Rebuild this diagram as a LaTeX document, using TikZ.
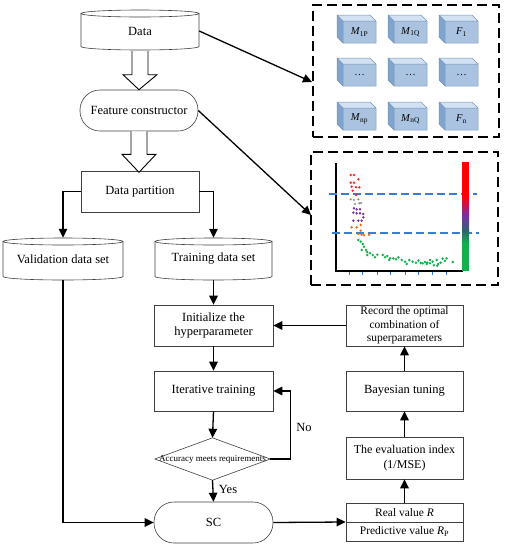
\documentclass[tikz,border=0pt]{standalone}
\usepackage{fontspec}
\setmainfont{Liberation Serif}
\usetikzlibrary{arrows.meta,calc}
\definecolor{cubefront}{HTML}{A9C3E0}
\definecolor{cubetop}{HTML}{D3E2F2}
\definecolor{cubeleft}{HTML}{7FA5CE}
\definecolor{cubeedge}{HTML}{7393B8}
\definecolor{dashblue}{HTML}{3A7BD5}
\definecolor{dred}{HTML}{FF2A2A}
\definecolor{dgray}{HTML}{8C8C8C}
\definecolor{dpurple}{HTML}{7A30A8}
\definecolor{dorange}{HTML}{EE6A1C}
\definecolor{dgreen}{HTML}{12B04A}
\newcommand\mycube[4]{%
  \fill[cubeleft] (#1,#2) -- (#1+6,#2+6) -- (#1+6,#2+28) -- (#1,#2+22) -- cycle;
  \fill[cubetop] (#1,#2) -- (#1+33,#2) -- (#1+39,#2+6) -- (#1+6,#2+6) -- cycle;
  \fill[cubefront] (#1+6,#2+6) rectangle (#1+39,#2+28);
  \draw[cubeedge,line width=0.5pt,line join=round] (#1,#2) -- (#1+33,#2) -- (#1+39,#2+6) -- (#1+39,#2+28) -- (#1+6,#2+28) -- (#1,#2+22) -- cycle
    (#1,#2) -- (#1+6,#2+6) -- (#1+39,#2+6) (#1+6,#2+6) -- (#1+6,#2+28);
  \node[font=\fontsize{10.5}{11}\selectfont] (#4) at (#1+22.5,#2+17) {#3};
}
\begin{document}
\begin{tikzpicture}[x=1pt,y=-1pt,
  box/.style={draw=black!75, line width=0.6pt, fill=white, align=center, inner sep=0pt,
    font=\fontsize{12.5}{14.5}\selectfont},
  stadium/.style={box, rounded corners=20pt},
  cylnode/.style={align=center, inner sep=0pt, font=\fontsize{12.5}{14}\selectfont},
  cyl/.style={draw=black!75, line width=0.6pt},
  arr/.style={line width=1.3pt, -{Triangle[length=9pt,width=8.5pt]}},
  hollow/.style={draw=black, line width=0.9pt, line join=miter, fill=white},
  dashbox/.style={draw, line width=2.2pt, dash pattern=on 10pt off 5pt},
  lbl/.style={font=\fontsize{12.5}{14}\selectfont}
]
\useasboundingbox (0,0) rectangle (507,550);

% ---------- cylinders ----------
\draw[cyl] (81,13.5) -- (81,46.5) arc[start angle=180,end angle=360,x radius=59pt,y radius=3.5pt] -- (199,13.5);
\draw[cyl] (140,13.5) ellipse[x radius=59pt,y radius=3.5pt];
\node[cylnode, minimum width=118, minimum height=37] (data) at (140,31) {Data};

\draw[cyl] (3,241.5) -- (3,276.5) arc[start angle=180,end angle=360,x radius=60pt,y radius=3.5pt] -- (123,241.5);
\draw[cyl] (63,241.5) ellipse[x radius=60pt,y radius=3.5pt];
\node[cylnode, minimum width=120, minimum height=42] (valid) at (63,259) {Validation data set};

\draw[cyl] (155,241.5) -- (155,276.5) arc[start angle=180,end angle=360,x radius=58.5pt,y radius=3.5pt] -- (272,241.5);
\draw[cyl] (213.5,241.5) ellipse[x radius=58.5pt,y radius=3.5pt];
\node[cylnode, minimum width=117, minimum height=42] (train) at (213.5,259) {Training data set};

% ---------- boxes ----------
\node[stadium, minimum width=118, minimum height=41] (feat) at (139,110.5) {Feature constructor};
\node[box, minimum width=118, minimum height=41] (part) at (140,191.5) {Data partition};
\node[box, minimum width=119, minimum height=41] (init) at (213.5,325.5) {Initialize the\\hyperparameter};
\node[box, minimum width=119, minimum height=40] (iter) at (213.5,391) {Iterative training};
\node[minimum width=115, minimum height=42, inner sep=0pt] (dia) at (212.5,459) {};
\draw[draw=black!75, line width=0.6pt] (dia.north) -- (dia.east) -- (dia.south) -- (dia.west) -- cycle;
\node[font=\fontsize{9}{10}\selectfont, inner sep=0pt] (diatext) at (dia.center) {Accuracy meets requirements};
\node[stadium, minimum width=119, minimum height=41] (sc) at (213.5,522.5) {SC};

\node[box, minimum width=117, minimum height=38] (real) at (404.5,522) {};
\draw[draw=black!75, line width=0.6pt] (real.west) -- (real.east);
\node[font=\fontsize{11.5}{13}\selectfont] (realtop) at (404.5,512.5) {Real value \textit{R}};
\node[font=\fontsize{11.5}{13}\selectfont] (realbot) at (404.5,531.5) {Predictive value \textit{R}\textsubscript{P}};
\node[box, minimum width=117, minimum height=42, font=\fontsize{12}{15}\selectfont] (eval) at (404.5,458) {The evaluation index\\(1/MSE)};
\node[box, minimum width=117, minimum height=40] (bayes) at (404.5,391) {Bayesian tuning};
\node[box, minimum width=117, minimum height=41, font=\fontsize{11.5}{13.5}\selectfont] (rec) at (404.5,325.5) {Record the optimal\\combination of\\superparameters};

% ---------- hollow arrows ----------
\draw[hollow] ($(data.south)+(-8,1.5)$) -- ($(data.south)+(-8,25)$) -- ($(data.south)+(-17,25)$)
  -- (feat.north) -- ($(data.south)+(17,25)$) -- ($(data.south)+(8,25)$) -- ($(data.south)+(8,1.5)$);
\draw[hollow] ($(feat.south)+(-8,0)$) -- ($(feat.south)+(-8,23)$) -- ($(feat.south)+(-17,23)$)
  -- ($(feat.south)+(0,41)$) -- ($(feat.south)+(17,23)$) -- ($(feat.south)+(8,23)$) -- ($(feat.south)+(8,0)$);

% ---------- connectors ----------
\draw[arr] (part.west) -| (valid.north);
\draw[arr] (part.east) -| (train.north);
\draw[arr] (train.south) -- (init.north);
\draw[arr] (init.south) -- (iter.north);
\draw[arr] (iter.south) -- (dia.north);
\draw[arr] (dia.south) -- node[lbl, right, pos=0.45, xshift=2pt] {Yes} (sc.north);
\coordinate (noturn) at (290.5,459);
\draw[arr] (dia.east) -- (noturn) |- (iter.east);
\node[lbl] (nolbl) at (304,427) {No};
\draw[arr] (valid.south) |- (sc.west);
\draw[arr] (sc.east) -- (real.west);
\draw[arr] (real.north) -- (eval.south);
\draw[arr] (eval.north) -- (bayes.south);
\draw[arr] (bayes.north) -- (rec.south);
\draw[arr] (rec.west) -- (init.east);

% ---------- dashed box 1 : cubes ----------
\node[dashbox, minimum width=186, minimum height=132] (b1) at (406,71) {};
\coordinate (b1in) at (312,82);
\draw[arr] (data.east) -- (b1in);
\mycube{337}{15}{\textit{M}\textsubscript{1P}}{c11}
\mycube{388}{15}{\textit{M}\textsubscript{1Q}}{c12}
\mycube{439}{15}{\textit{F}\textsubscript{1}}{c13}
\mycube{337}{58}{…}{c21}
\mycube{388}{58}{…}{c22}
\mycube{439}{58}{…}{c23}
\mycube{337}{102}{\textit{M}\textsubscript{np}}{c31}
\mycube{388}{102}{\textit{M}\textsubscript{nQ}}{c32}
\mycube{439}{102}{\textit{F}\textsubscript{n}}{c33}

% ---------- dashed box 2 : plot ----------
\node[dashbox, minimum width=187, minimum height=133] (b2) at (404.5,218.5) {};
\coordinate (b2in) at (311,215);
\draw[arr] (feat.east) -- (b2in);
\draw[line width=2.5pt] (336,163) -- (336,271) -- (463,271);
\foreach \tx in {349.3,362.7,377.3,390.7,405,418.3,432.7,446}
  \draw[dashblue, line width=0.8pt] (\tx,272.3) -- (\tx,275);
\draw[dashblue, line width=1.3pt, dash pattern=on 8pt off 4pt] (329,194) -- (477,194);
\draw[dashblue, line width=1.3pt, dash pattern=on 8pt off 4pt] (332,233) -- (479,233);
% colour bar
\fill[red] (462,162) rectangle (469,196);
\shade[top color=red, bottom color=dpurple] (462,195.5) rectangle (469,216);
\shade[top color=dpurple, bottom color={rgb,255:red,45;green,100;blue,110}] (462,215.5) rectangle (469,231);
\shade[top color={rgb,255:red,45;green,100;blue,110}, bottom color=dgreen] (462,230.5) rectangle (469,243);
\fill[dgreen] (462,242.5) rectangle (469,271);
% scatter (in zoomed coordinates)
\begin{scope}[xshift=290pt, yshift=-140pt, x=0.33333pt, y=-0.33333pt]
  \foreach \px/\py in {182/105,192/105,205/118,182/128,192/128,185/140,198/142,208/142,188/152,198/165}
    \fill[dred] (\px,\py) circle[radius=1.4pt];
  \foreach \px/\py in {182/178,192/180,205/178,195/192,208/190,213/189}
    \fill[dgray] (\px,\py) circle[radius=1.2pt];
  \foreach \px/\py in {192/205,200/208,210/208,190/218,200/220,210/220,220/222,190/242,205/242,215/242,220/232}
    \fill[dpurple] (\px,\py) circle[radius=1.4pt];
  \foreach \px/\py in {185/262,200/262,212/255,205/282,215/284,222/286,237/284,212/272}
    \fill[dorange] (\px,\py) circle[radius=1.4pt];
  \foreach \px/\py in {205/300,212/305,218/312,222/320,215/330,228/330,232/336,240/340,248/345,255/352,232/345,
      278/345,285/352,292/348,300/355,310/355,318/358,325/352,335/360,345/365,350/372,358/360,368/365,378/368,
      385/362,398/370,405/366,412/368,420/370,428/365,432/376,440/360,445/372,452/368,458/356,465/362,470/355,
      488/366,420/360,410/372,442/377,262/344,298/360,392/369}
    \fill[dgreen] (\px,\py) circle[radius=1.4pt];
\end{scope}
\end{tikzpicture}
\end{document}
